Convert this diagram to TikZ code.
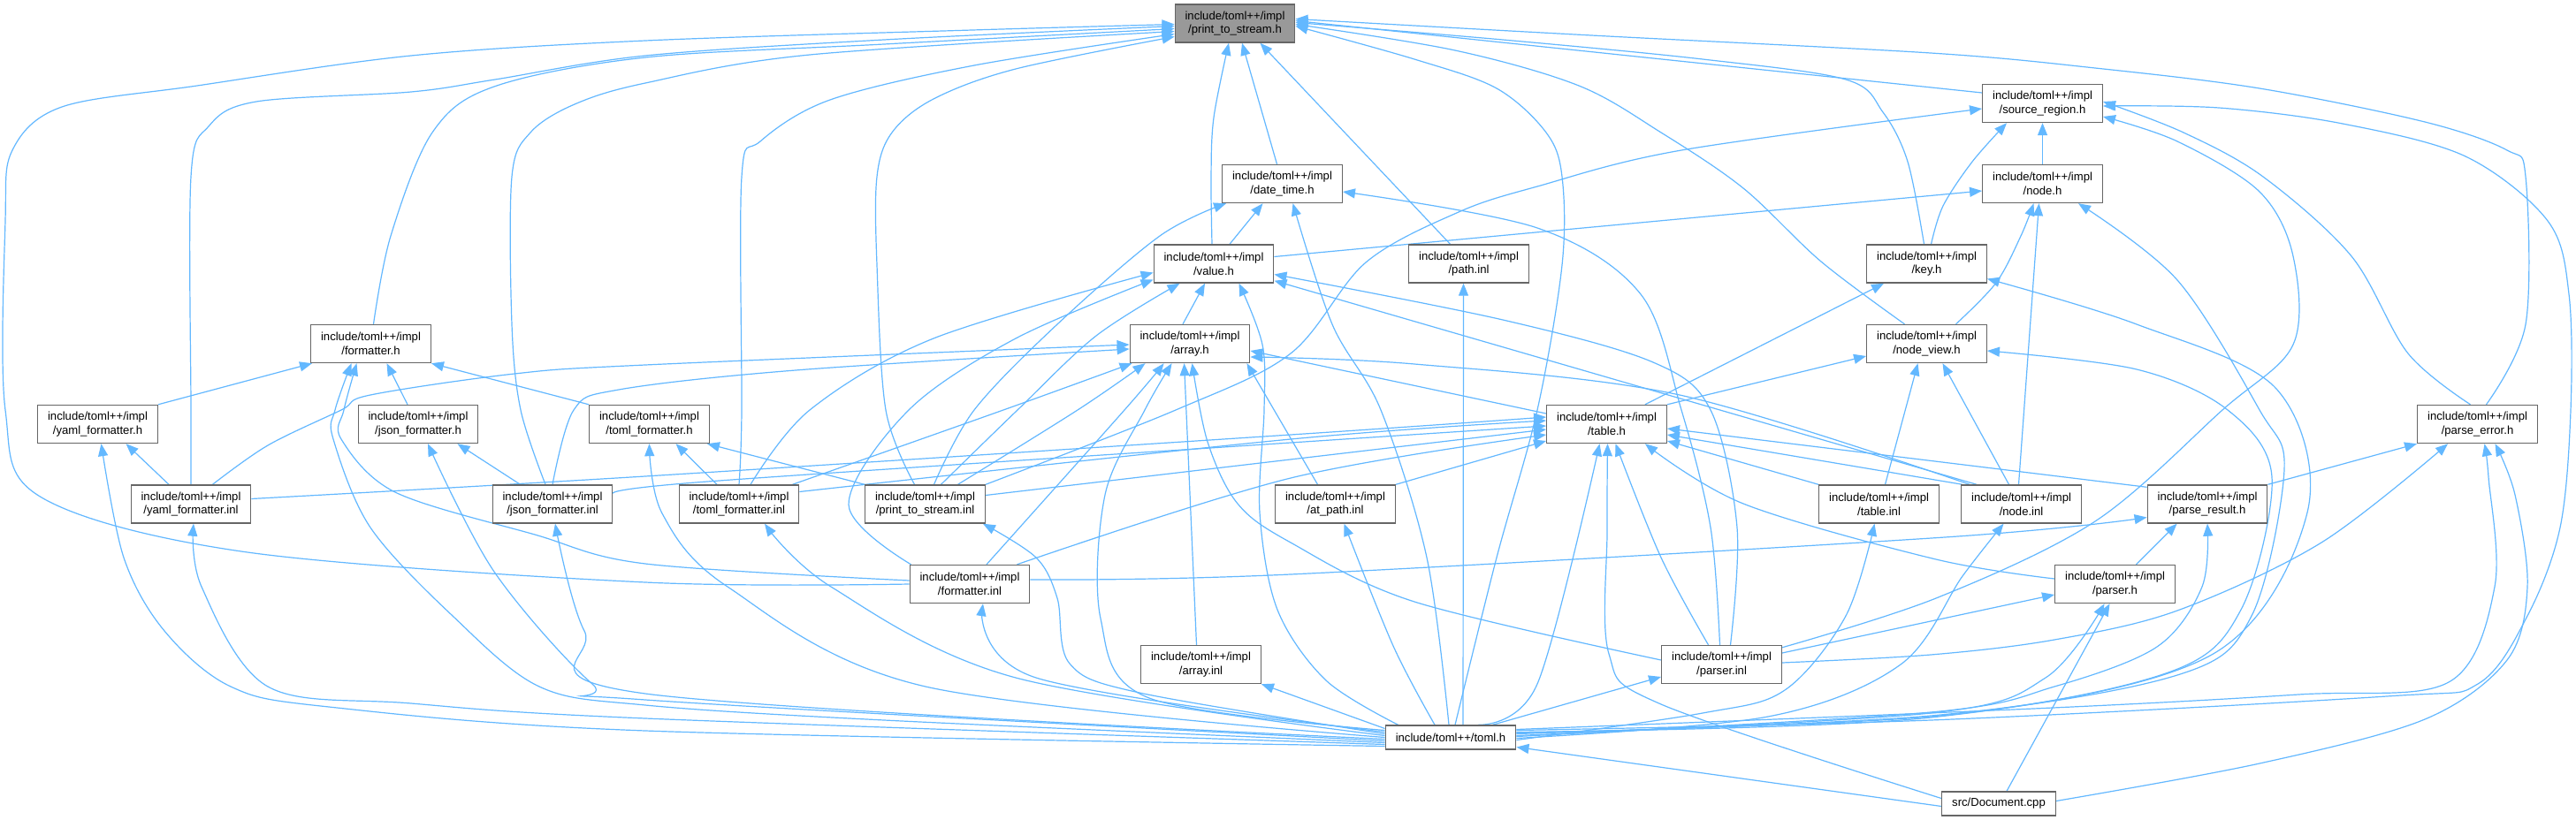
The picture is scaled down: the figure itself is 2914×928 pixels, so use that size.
\documentclass[tikz,border=0pt]{standalone}
\usepackage{fontspec}
\setmainfont{Liberation Sans}
\usetikzlibrary{arrows.meta,calc}
\definecolor{edgeblue}{HTML}{63B8FF}
\definecolor{nodeborder}{HTML}{666666}
\definecolor{rootfill}{HTML}{999999}
\pgfdeclarelayer{bg}
\pgfsetlayers{bg,main}
\newcommand\edg[1]{\draw[edge] plot[smooth,tension=0.55] coordinates {#1};}
\begin{document}
\begin{tikzpicture}[x=1pt,y=-1pt,
  box/.style={draw=nodeborder,fill=white,line width=1.4pt,minimum width=135.5pt,minimum height=43pt,inner sep=0pt,align=center,font=\fontsize{13.1}{15.7}\selectfont},
  root/.style={box,fill=rootfill},
  onebox/.style={box,minimum height=27pt},
  edge/.style={draw=edgeblue,line width=1.2pt,-{Triangle[length=14pt,width=11pt]}}]
\useasboundingbox (0,0) rectangle (2914,928);
% nodes
\node[root] (pts) at (1397,26.5) {include/toml++/impl\\/print\_to\_stream.h};
\node[box] (sr) at (2310.5,117) {include/toml++/impl\\/source\_region.h};
\node[box] (dt) at (1450.5,208) {include/toml++/impl\\/date\_time.h};
\node[box] (nd) at (2310.5,208) {include/toml++/impl\\/node.h};
\node[box] (val) at (1373,298.5) {include/toml++/impl\\/value.h};
\node[box] (pathi) at (1661.5,298.5) {include/toml++/impl\\/path.inl};
\node[box] (key) at (2179.5,298.5) {include/toml++/impl\\/key.h};
\node[box] (fmt) at (419.5,389) {include/toml++/impl\\/formatter.h};
\node[box] (arr) at (1346,389) {include/toml++/impl\\/array.h};
\node[box] (nv) at (2179.5,389) {include/toml++/impl\\/node\_view.h};
\node[box] (yh) at (110.5,480) {include/toml++/impl\\/yaml\_formatter.h};
\node[box] (jh) at (473,480) {include/toml++/impl\\/json\_formatter.h};
\node[box] (th) at (734.5,480) {include/toml++/impl\\/toml\_formatter.h};
\node[box] (tbl) at (1817.5,480) {include/toml++/impl\\/table.h};
\node[box] (pe) at (2802.5,480) {include/toml++/impl\\/parse\_error.h};
\node[box] (yi) at (216,570.5) {include/toml++/impl\\/yaml\_formatter.inl};
\node[box] (ji) at (625,570.5) {include/toml++/impl\\/json\_formatter.inl};
\node[box] (ti2) at (836,570.5) {include/toml++/impl\\/toml\_formatter.inl};
\node[box] (ptsi) at (1046.5,570.5) {include/toml++/impl\\/print\_to\_stream.inl};
\node[box] (api) at (1510.5,570.5) {include/toml++/impl\\/at\_path.inl};
\node[box] (tinl) at (2125.5,570.5) {include/toml++/impl\\/table.inl};
\node[box] (ninl) at (2286.5,570.5) {include/toml++/impl\\/node.inl};
\node[box] (pr) at (2497,570.5) {include/toml++/impl\\/parse\_result.h};
\node[box] (fi) at (1097,661) {include/toml++/impl\\/formatter.inl};
\node[box] (ph) at (2392.5,661) {include/toml++/impl\\/parser.h};
\node[box] (ainl) at (1358.5,752) {include/toml++/impl\\/array.inl};
\node[box] (parsi) at (1947.5,752) {include/toml++/impl\\/parser.inl};
\node[onebox,minimum width=147.5pt] (toml) at (1641,834.5) {include/toml++/toml.h};
\node[onebox,minimum width=128.5pt] (doc) at (2261,909.5) {src/Document.cpp};
\begin{pgfonlayer}{bg}
\fill[white] (0,0) rectangle (2914,928);
% into print_to_stream.h
\edg{(fi.west) (730,659) (280,625) (47,563) (6,464) (6,250) (14,170) (70,121) (223,97) (465,63) (730,46) (1100,34) ($(pts.west)+(0,1)$)}
\edg{(yi.north) (216,464) (216,200) (236,143) (290,115) (465,104) (560,90) (730,63) (1000,45) ($(pts.west)+(0,3)$)}
\edg{($(fmt.north)+(3,0)$) (442,267) (489,150) (559,98) (730,65) (1000,50) ($(pts.west)+(0,6)$)}
\edg{($(ji.north)+(-8,0)$) (589,464) (579,367) (579,200) (600,150) (650,118) (730,94) (916,62) ($(pts.west)+(0,9)$)}
\edg{(ti2.north) (839,464) (839,200) (860,160) (939,113) (1102,74) ($(pts.west)+(0,12)$)}
\edg{($(ptsi.north)+(-12,0)$) (1002,464) (992,300) (992,200) (1009,150) (1056,112) (1149,78) ($(pts.west)+(0,15)$)}
\edg{($(val.north)+(-2,0)$) (1370,200) (1373,133) ($(pts.south)+(-7,0)$)}
\draw[edge] ($(dt.north)+(-6,0)$) -- ($(pts.south)+(8,0)$);
\draw[edge] ($(pathi.north)+(-21,0)$) -- ($(pts.south east)+(-40,0)$);
\edg{($(toml.north)+(5,0)$) (1693,631) (1739,464) (1767,300) (1767,200) (1749,150) (1693,100) (1600,67) ($(pts.east)+(0,3)$)}
\edg{($(nv.north)+(-25,0)$) (2060,296) (1972,213) (1879,150) (1786,97) (1646,57) ($(pts.east)+(0,1)$)}
\edg{($(key.north)+(-3,0)$) (2158,183) (2130,127) (2088,90) (1926,67) (1700,45) ($(pts.east)+(0,-1)$)}
\draw[edge] ($(sr.west)+(0,-12)$) -- ($(pts.east)+(0,-3)$);
\edg{($(pe.north)+(10,0)$) (2857,367) (2857,200) (2836,170) (2743,138) (2556,100) (2370,77) (2184,60) (1800,40) ($(pts.east)+(0,-5)$)}
% into source_region.h
\edg{(ptsi.north east) (1330,464) (1460,400) (1545,297) (1650,240) (1739,211) (1902,170) ($(sr.west)+(0,6)$)}
\draw[edge] (nd) -- (sr);
\edg{($(key.north)+(5,0)$) (2198,233) (2231,183) ($(sr.south west)+(28,0)$)}
\edg{($(toml.east)+(0,-8)$) (2184,815) (2700,788) (2803,774) (2859,697) (2896,597) (2908,464) (2906,333) (2882,250) (2789,177) (2650,140) (2510,122) ($(sr.east)+(0,3)$)}
\edg{($(pe.north)+(-8,0)$) (2724,400) (2660,290) (2560,200) (2470,150) ($(sr.east)+(0,-2)$)}
\edg{($(parsi.north east)+(0,3)$) (2190,677) (2370,590) (2514,464) (2594,390) (2594,290) (2556,217) (2463,160) ($(sr.east)+(0,15)$)}
% into date_time.h
\draw[edge] ($(val.north)+(18,0)$) -- ($(dt.south)+(-22,0)$);
\edg{($(ptsi.north)+(10,0)$) (1102,464) (1196,367) (1312,267) ($(dt.south west)+(5,0)$)}
\edg{($(parsi.north)+(-2,0)$) (1935,597) (1902,464) (1856,333) (1739,258) ($(dt.east)+(0,9)$)}
\edg{($(toml.north)+(-2,0)$) (1614,631) (1562,464) (1507,367) ($(dt.south)+(12,0)$)}
% into node.h
\draw[edge] ($(val.east)+(0,-8)$) -- ($(nd.west)+(0,8)$);
\edg{($(nv.north)+(33,0)$) (2258,320) (2286,267) ($(nd.south)+(-10,0)$)}
\draw[edge] ($(ninl.north)+(-3,0)$) -- ($(nd.south)+(-4,0)$);
\edg{($(toml.east)+(0,-4)$) (2184,810) (2463,764) (2547,697) (2584,531) (2556,464) (2463,317) ($(nd.south east)+(-28,0)$)}
% into value.h
\draw[edge] ($(arr.north)+(-8,0)$) -- ($(val.south)+(-10,0)$);
\edg{($(ptsi.north)+(18,0)$) (1151,464) (1240,380) ($(val.south west)+(30,0)$)}
\draw[edge] ($(ninl.north west)+(18,0)$) -- ($(val.south east)+(0,-3)$);
\edg{($(parsi.north)+(10,0)$) (1965,597) (1935,464) (1870,410) (1700,362) ($(val.east)+(0,12)$)}
\edg{($(fi.north west)+(2,0)$) (960,571) (1028,464) (1149,383) ($(val.west)+(0,18)$)}
\edg{($(ti2.north)+(13,0)$) (916,464) (1056,383) ($(val.west)+(0,10)$)}
\edg{($(toml.north west)+(15,0)$) (1500,770) (1445,690) (1425,580) (1430,464) (1428,390) ($(val.south east)+(-40,0)$)}
% into path.inl
\draw[edge] ($(toml.north)+(14,0)$) -- ($(pathi.south)+(-6,0)$);
% into key.h
\draw[edge] ($(tbl.north east)+(-25,0)$) -- ($(key.south west)+(20,0)$);
\edg{($(toml.east)+(0,-6)$) (2184,812) (2500,742) (2610,580) (2575,440) (2417,367) ($(key.east)+(0,17)$)}
% into formatter.h
\draw[edge] (yh.north east) -- ($(fmt.south west)+(2,0)$);
\draw[edge] ($(jh.north)+(-12,0)$) -- ($(fmt.south)+(18,0)$);
\draw[edge] (th.north west) -- (fmt.south east);
\edg{($(fi.west)+(0,-4)$) (730,638) (605,605) (447,557) (386,497) (389,464) ($(fmt.south)+(-16,0)$)}
\edg{($(toml.west)+(0,6)$) (1000,815) (730,798) (610,777) (512,697) (419,597) (377,497) (379,464) ($(fmt.south)+(-22,0)$)}
% into array.h
\draw[edge] ($(tbl.west)+(0,-12)$) -- ($(arr.east)+(0,8)$);
\edg{($(ninl.north west)+(10,0)$) (1900,447) (1600,412) ($(arr.east)+(0,15)$)}
\draw[edge] ($(api.north)+(-20,0)$) -- ($(arr.south east)+(-4,0)$);
\draw[edge] ($(ainl.north)+(-5,0)$) -- ($(arr.south west)+(62,0)$);
\edg{($(parsi.west)+(0,-5)$) (1600,681) (1460,614) (1400,570) (1366,500) ($(arr.south west)+(71,0)$)}
\edg{($(fi.north)+(19,0)$) (1272,464) ($(arr.south west)+(39,0)$)}
\edg{($(ti2.north east)+(-8,0)$) (1135,464) ($(arr.south west)+(3,0)$)}
\edg{($(ptsi.north)+(37,0)$) (1219,464) ($(arr.south west)+(18,0)$)}
\edg{(ji.north) (649,464) (700,441) (900,419) ($(arr.west)+(0,6)$)}
\edg{($(yi.north east)+(-44,0)$) (303,504) (386,464) (419,447) (582,423) (730,413) ($(arr.west)+(0,1)$)}
\edg{($(toml.west)+(0,-8)$) (1300,790) (1245,700) (1250,560) (1295,464) ($(arr.south west)+(48,0)$)}
% into node_view.h
\draw[edge] (tbl.north east) -- ($(nv.west)+(0,14)$);
\draw[edge] ($(ninl.north)+(-14,0)$) -- ($(nv.south)+(18,0)$);
\draw[edge] ($(tinl.north)+(7,0)$) -- ($(nv.south)+(-10,0)$);
\edg{($(toml.east)+(0,-5)$) (2184,811) (2450,762) (2535,690) (2570,540) (2520,464) (2417,418) ($(nv.east)+(0,8)$)}
% into formatter headers
\draw[edge] ($(yi.north)+(-25,0)$) -- ($(yh.south)+(32,0)$);
\edg{($(toml.west)+(0,10)$) (730,827) (372,800) (261,777) (186,714) (140,631) ($(yh.south)+(4,0)$)}
\draw[edge] ($(ji.north west)+(32,0)$) -- ($(jh.south east)+(-24,0)$);
\edg{($(toml.west)+(0,4)$) (730,792) (670,774) (559,647) ($(jh.south)+(11,0)$)}
\draw[edge] (ptsi.north west) -- ($(th.south east)+(-3,0)$);
\draw[edge] ($(ti2.north)+(-25,0)$) -- ($(th.south)+(30,0)$);
\edg{(toml.west) (1047,777) (823,664) (749,581) (th.south)}
% toml.h into the .inl files and others
\edg{($(toml.west)+(0,8)$) (730,813) (465,796) (303,777) (228,664) ($(yi.south)+(3,0)$)}
\edg{($(toml.west)+(0,2)$) (730,785) (661,714) ($(ji.south)+(3,0)$)}
\edg{($(toml.west)+(0,-2)$) (1149,767) (940,664) ($(ti2.south)+(29,0)$)}
\edg{($(toml.west)+(0,-4)$) (1289,784) (1210,751) (1196,677) (1172,631) ($(ptsi.south east)+(-3,0)$)}
\edg{($(toml.west)+(0,-6)$) (1172,767) ($(fi.south)+(15,0)$)}
\draw[edge] ($(toml.west)+(0,-10)$) -- (ainl.south east);
\edg{($(toml.north)+(-18,0)$) (1576,731) ($(api.south)+(10,0)$)}
\edg{($(toml.north east)+(-43,0)$) (1739,774) ($(tbl.south)+(-8,0)$)}
\draw[edge] ($(toml.north east)+(-27,0)$) -- ($(parsi.west)+(0,14)$);
\edg{($(toml.east)+(0,3)$) (1926,807) (2019,781) (2088,697) ($(tinl.south)+(-5,0)$)}
\edg{($(toml.east)+(0,1)$) (2000,811) (2150,752) (2220,652) ($(ninl.south)+(-20,0)$)}
\edg{($(toml.east)+(0,-1)$) (2184,806) (2324,777) (2440,732) (2491,664) (pr.south)}
\edg{($(toml.east)+(0,-2)$) (2184,807) (2314,767) ($(ph.south)+(-12,0)$)}
\edg{($(toml.east)+(0,-9)$) (2300,802) (2600,786) (2770,772) (2822,664) (2815,540) ($(pe.south)+(8,0)$)}
% Document.cpp
\edg{($(doc.east)+(0,-3)$) (2556,864) (2743,814) (2836,747) (2859,664) (2845,560) ($(pe.south)+(20,0)$)}
\edg{($(doc.west)+(0,-6)$) (1879,797) (1820,740) (1818,600) ($(tbl.south)+(1,0)$)}
\draw[edge] ($(doc.west)+(0,3)$) -- ($(toml.east)+(0,11)$);
\edg{($(doc.north)+(9,0)$) (2324,797) ($(ph.south)+(-6,0)$)}
% parse_error / parse_result / parser
\draw[edge] (pr.north east) -- (pe.south west);
\edg{($(parsi.east)+(0,-2)$) (2184,741) (2324,724) (2463,691) (2626,614) ($(pe.south west)+(35,0)$)}
\draw[edge] ($(ph.north)+(24,0)$) -- ($(pr.south west)+(34,0)$);
\edg{($(fi.east)+(0,-5)$) (1460,650) (2200,608) ($(pr.west)+(0,15)$)}
\draw[edge] ($(parsi.east)+(0,-13)$) -- ($(ph.west)+(0,12)$);
% into table.h
\edg{($(yi.east)+(0,-6)$) (730,539) (1460,492) ($(tbl.west)+(0,-8)$)}
\edg{($(ti2.east)+(0,-14)$) (1460,497) ($(tbl.west)+(0,-4)$)}
\edg{($(ji.east)+(0,-12)$) (800,545) (1460,501) ($(tbl.west)+(0,2)$)}
\draw[edge] ($(ptsi.east)+(0,-10)$) -- ($(tbl.west)+(0,6)$);
\edg{($(fi.north east)+(-15,0)$) (1460,541) ($(tbl.west)+(0,12)$)}
\draw[edge] (api.north east) -- ($(tbl.west)+(0,19)$);
\edg{($(parsi.north)+(-15,0)$) (1879,631) ($(tbl.south)+(10,0)$)}
\edg{($(ph.west)+(0,-6)$) (2190,633) (1972,570) ($(tbl.south east)+(-25,0)$)}
\draw[edge] ($(ninl.north west)+(2,0)$) -- ($(tbl.east)+(0,12)$);
\draw[edge] ($(pr.north west)+(0,3)$) -- ($(tbl.east)+(0,5)$);
\draw[edge] (tinl.north west) -- ($(tbl.east)+(0,19)$);
\end{pgfonlayer}
\end{tikzpicture}
\end{document}
